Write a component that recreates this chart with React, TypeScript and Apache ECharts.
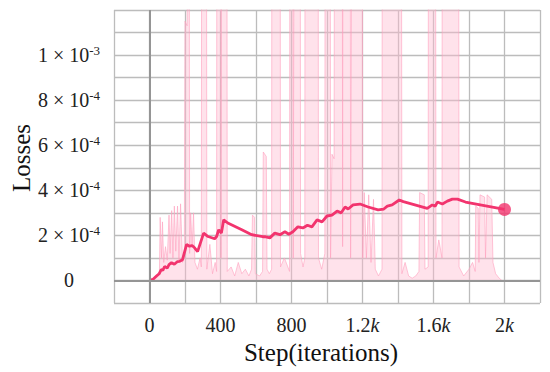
import React, { useEffect, useRef } from "react";
import * as echarts from "echarts";

// Loss values are in units of 1e-4
const smoothSteps = [0, 20, 40, 55, 66, 75, 85, 100, 110, 124, 140, 158, 170, 186, 209, 225, 240, 254, 271, 305, 330, 367, 378, 390, 405, 418, 441, 520, 576, 638, 650, 678, 706, 735, 763, 785, 808, 836, 864, 890, 915, 944, 972, 1000, 1028, 1057, 1080, 1102, 1119, 1147, 1186, 1232, 1288, 1320, 1340, 1367, 1407, 1430, 1480, 1565, 1593, 1610, 1622, 1650, 1678, 1706, 1735, 1780, 2000];
const smoothLoss = [0, 0.05, 0.2, 0.3, 0.48, 0.45, 0.62, 0.55, 0.7, 0.79, 0.72, 0.84, 0.85, 0.92, 1.6, 1.52, 1.55, 1.45, 1.28, 2.1, 1.95, 1.85, 1.95, 2.25, 2.1, 2.69, 2.55, 2.25, 2.03, 1.94, 1.94, 1.89, 2.1, 2.03, 2.16, 2.05, 2.16, 2.38, 2.33, 2.45, 2.38, 2.69, 2.6, 2.86, 2.9, 3.08, 3.0, 3.26, 3.17, 3.35, 3.39, 3.26, 3.13, 3.17, 3.3, 3.35, 3.57, 3.5, 3.39, 3.2, 3.35, 3.3, 3.48, 3.39, 3.52, 3.61, 3.61, 3.48, 3.15];

const rawSteps = [0, 10, 20, 30, 45, 56, 60, 68, 73, 80, 90, 100, 110, 116, 125, 132, 140, 148, 158, 166, 175, 186, 196, 200, 212, 222, 226, 232, 240, 248, 256, 270, 285, 292, 295, 320, 323, 340, 355, 370, 378, 380, 400, 403, 409, 435, 438, 460, 480, 500, 520, 540, 560, 575, 580, 592, 596, 620, 637, 641, 658, 662, 675, 688, 690, 735, 738, 760, 789, 792, 807, 810, 818, 848, 851, 865, 875, 877, 949, 952, 970, 988, 990, 1017, 1020, 1028, 1040, 1044, 1085, 1088, 1091, 1130, 1133, 1146, 1198, 1201, 1210, 1222, 1235, 1248, 1262, 1272, 1290, 1310, 1312, 1418, 1422, 1440, 1460, 1480, 1500, 1518, 1522, 1548, 1552, 1570, 1572, 1610, 1614, 1630, 1648, 1650, 1740, 1744, 1770, 1800, 1820, 1835, 1838, 1852, 1856, 1862, 1888, 1893, 1902, 1928, 1935, 1950, 1970, 1985];
const rawLoss = [0, 0.1, 0.05, 0.2, 0.3, 0.4, 2.8, 1.0, 2.6, 0.8, 1.5, 0.9, 2.9, 1.2, 3.1, 1.0, 3.3, 1.3, 3.3, 0.9, 3.4, 0.8, 1.0, 11.5, 11.3, 30, 1.2, 3.0, 1.5, 3.0, 0.8, 0.5, 1.0, 0.6, 30, 30, 0.5, 1.6, 0.3, 0.8, 0.4, 30, 30, 1.0, 30, 30, 0.4, 0.6, 0.2, 0.8, 0.3, 0.5, 0.2, 0.5, 2.9, 2.8, 0.3, 0.2, 0.4, 5.7, 5.5, 0.5, 0.3, 0.5, 30, 30, 0.6, 1.0, 0.4, 30, 30, 1.0, 30, 30, 1.2, 0.6, 1.0, 30, 30, 1.0, 0.5, 1.2, 30, 30, 1.0, 5.6, 5.4, 30, 30, 1.5, 30, 30, 1.0, 30, 30, 1.0, 3.9, 1.0, 3.8, 0.8, 3.6, 0.5, 0.2, 0.5, 30, 30, 0.3, 0.8, 0.2, 0.1, 0.2, 0.4, 3.9, 3.8, 0.5, 0.6, 30, 30, 1.0, 1.8, 1.0, 30, 30, 0.6, 0.2, 0.5, 0.8, 0.4, 3.3, 3.2, 0.8, 3.8, 3.7, 1.0, 3.8, 3.6, 0.8, 0.3, 0.1, 0];

const xTickLabels: Record<number, string> = { 0: "0", 400: "400", 800: "800", 1200: "1.2{k|k}", 1600: "1.6{k|k}", 2000: "2{k|k}" };
const yTickLabels: Record<number, string> = {
  0: "{a|0}",
  2: "{a|2 × 10}{s|-4}",
  4: "{a|4 × 10}{s|-4}",
  6: "{a|6 × 10}{s|-4}",
  8: "{a|8 × 10}{s|-4}",
  10: "{a|1 × 10}{s|-3}",
};

const SERIF = "'Liberation Serif', 'Times New Roman', serif";
const LINE_COLOR = "#f2346e";

export default function App() {
  const ref = useRef<HTMLDivElement>(null);
  useEffect(() => {
    if (!ref.current) return;
    const chart = echarts.init(ref.current, null, { renderer: "svg" });
    const smoothData = smoothSteps.map((s, i) => [s, smoothLoss[i]]);
    const rawData = rawSteps.map((s, i) => [s, rawLoss[i]]);
    const last = smoothData[smoothData.length - 1];
    chart.setOption({
      animation: false,
      backgroundColor: "#ffffff",
      grid: { left: 114, right: 10, top: 10, bottom: 69 },
      xAxis: {
        type: "value",
        min: -200,
        max: 2200,
        interval: 200,
        axisLine: { show: false },
        axisTick: { show: false },
        splitLine: { show: true, lineStyle: { color: "#bcbcbc", width: 1.3 } },
        axisLabel: {
          margin: 12,
          color: "#222",
          fontFamily: SERIF,
          fontSize: 20,
          showMinLabel: true,
          showMaxLabel: true,
          formatter: (v: number) => xTickLabels[Math.round(v)] ?? "",
          rich: { k: { fontFamily: SERIF, fontSize: 20, fontStyle: "italic", color: "#222" } },
        },
      },
      yAxis: {
        type: "value",
        min: -1,
        max: 12,
        interval: 1,
        axisLine: { show: false },
        axisTick: { show: false },
        splitLine: { show: true, lineStyle: { color: "#bcbcbc", width: 1.3 } },
        axisLabel: {
          margin: 45,
          align: "center",
          color: "#222",
          formatter: (v: number) => yTickLabels[Math.round(v)] ?? "",
          rich: {
            a: { fontFamily: SERIF, fontSize: 20, color: "#222", lineHeight: 22 },
            s: { fontFamily: SERIF, fontSize: 13, color: "#222", verticalAlign: "top", lineHeight: 22, padding: [0, 0, 12, 0] },
          },
        },
      },
      graphic: [
        {
          type: "text",
          x: 21,
          y: 158,
          rotation: Math.PI / 2,
          style: { text: "Losses", font: `25px ${SERIF}`, fill: "#111", align: "center", verticalAlign: "middle" },
        },
        {
          type: "text",
          x: 321,
          y: 352,
          style: { text: "Step(iterations)", font: `25px ${SERIF}`, fill: "#111", align: "center", verticalAlign: "middle" },
        },
      ],
      series: [
        {
          type: "line",
          data: rawData,
          showSymbol: false,
          clip: true,
          z: 2,
          lineStyle: { width: 1, color: "rgba(255,160,190,0.6)" },
          areaStyle: { color: "rgba(255,185,207,0.6)", origin: 0 },
          markLine: {
            silent: true,
            symbol: "none",
            label: { show: false },
            lineStyle: { color: "#959595", width: 2, type: "solid" },
            data: [{ xAxis: 0 }, { yAxis: 0 }],
          },
        },
        {
          type: "line",
          data: smoothData,
          showSymbol: false,
          z: 4,
          lineStyle: { width: 2.8, color: LINE_COLOR },
        },
        {
          type: "scatter",
          data: [last],
          symbolSize: 13,
          z: 5,
          itemStyle: { color: LINE_COLOR },
        },
      ],
    });
    return () => chart.dispose();
  }, []);
  return <div ref={ref} style={{ position: "absolute", left: 0, top: 0, width: 550, height: 372 }} />;
}
